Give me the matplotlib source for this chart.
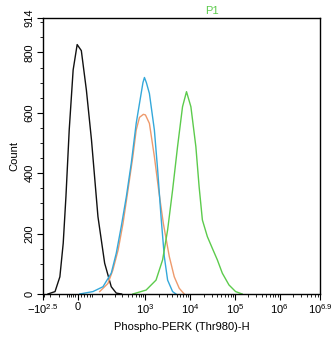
import numpy as np
import matplotlib
matplotlib.use("Agg")
import matplotlib.pyplot as plt
from matplotlib.ticker import FixedLocator, NullFormatter

plt.rcParams['font.family'] = ['Liberation Sans', 'DejaVu Sans']
plt.rcParams['mathtext.fontset'] = 'custom'
plt.rcParams['mathtext.rm'] = 'Liberation Sans'
plt.rcParams['mathtext.it'] = 'Liberation Sans'

# histogram traces (fluorescence intensity, event count)
black_x = [-225, -136, -94, -71, -55, -38, -20, -3, 11, 28, 47, 76, 115, 167, 219, 290]
black_y = [0, 8, 57, 168, 322, 543, 742, 826, 806, 675, 510, 256, 102, 24, 3, 0]

blue_x = [6, 53, 104, 167, 219, 285, 372, 481, 621, 736, 880, 950, 1050, 1227, 1585, 1876, 2232, 2642, 3133, 4046, 4808]
blue_y = [0, 8, 24, 69, 135, 223, 322, 433, 565, 631, 700, 717, 700, 664, 543, 411, 256, 124, 46, 8, 0]

orange_x = [85, 139, 182, 242, 313, 405, 522, 621, 736, 900, 1000, 1227, 1585, 1977, 2512, 3415, 4409, 5696, 7356]
orange_y = [8, 35, 79, 146, 234, 344, 455, 543, 585, 595, 593, 565, 455, 344, 234, 124, 57, 19, 0]

green_x = [522, 1035, 1726, 2421, 3133, 4046, 5224, 6745, 8279, 10380, 13400, 15850, 18750, 24210, 31330, 40460, 52240, 73560, 103500, 145200]
green_y = [0, 13, 46, 113, 212, 344, 488, 620, 670, 620, 488, 355, 245, 190, 151, 113, 69, 30, 8, 0]

x_ticks = [-10**2.5, 0, 1e3, 1e4, 1e5, 1e6, 10**6.9]
x_labels = [r'$-10^{2.5}$', '0', r'$10^{3}$', r'$10^{4}$', r'$10^{5}$', r'$10^{6}$', r'$10^{6.9}$']
y_ticks = [0, 200, 400, 600, 800, 914]

# biexponential-like display transform
C = 62.0
F0 = np.log10(C / 2)
S = 0.77


def fwd(x):
    x = np.asarray(x, dtype=float)
    pos = (np.arcsinh(np.maximum(x, 0) / C) + np.log(C / 2)) / np.log(10)
    neg = F0 - S * np.arcsinh(np.maximum(-x, 0) / C) / np.log(10)
    return np.where(x >= 0, pos, neg)


def inv(u):
    u = np.asarray(u, dtype=float)
    pos = C * np.sinh(np.maximum(u, F0) * np.log(10) - np.log(C / 2))
    neg = -C * np.sinh(np.maximum(F0 - u, 0) * np.log(10) / S)
    return np.where(u >= F0, pos, neg)


fig = plt.figure(figsize=(3.34, 3.37), dpi=100)
ax = fig.add_axes([0.1287, 0.1276, 0.8293, 0.819])
ax.set_xscale('function', functions=(fwd, inv))

ax.plot(black_x, black_y, color='#111111', lw=1.0)
ax.plot(orange_x, orange_y, color='#EE9A6C', lw=1.0)
ax.plot(blue_x, blue_y, color='#34A8DA', lw=1.0)
ax.plot(green_x, green_y, color='#5CCB4C', lw=1.0)

ax.set_xlim(-10**2.5, 10**6.9)
ax.set_ylim(0, 914)

ax.set_xticks(x_ticks)
ax.set_xticklabels(x_labels)
minor_x = [-300, -200, -100] + list(range(-50, 51, 10)) + list(range(100, 1000, 100))
for d in [1e3, 1e4, 1e5, 1e6]:
    minor_x += [k * d for k in range(2, 10) if k * d < 10**6.9]
ax.xaxis.set_minor_locator(FixedLocator(minor_x))
ax.xaxis.set_minor_formatter(NullFormatter())

ax.set_yticks(y_ticks)
ax.set_yticklabels([str(v) for v in y_ticks], rotation=90, va='center')
ax.yaxis.set_minor_locator(FixedLocator(np.arange(50, 914, 50)))

ax.tick_params(which='major', direction='out', length=4, width=0.8, labelsize=8, pad=2)
ax.tick_params(which='minor', direction='out', length=2, width=0.6)
for sp in ax.spines.values():
    sp.set_linewidth(1.0)

ax.set_xlabel('Phospho-PERK (Thr980)-H', fontsize=8, labelpad=4)
ax.set_ylabel('Count', fontsize=8, labelpad=4)
ax.set_title('P1', fontsize=8, color='#5CCB4C', x=0.61, pad=3)

fig.savefig('out.png', dpi=100)
